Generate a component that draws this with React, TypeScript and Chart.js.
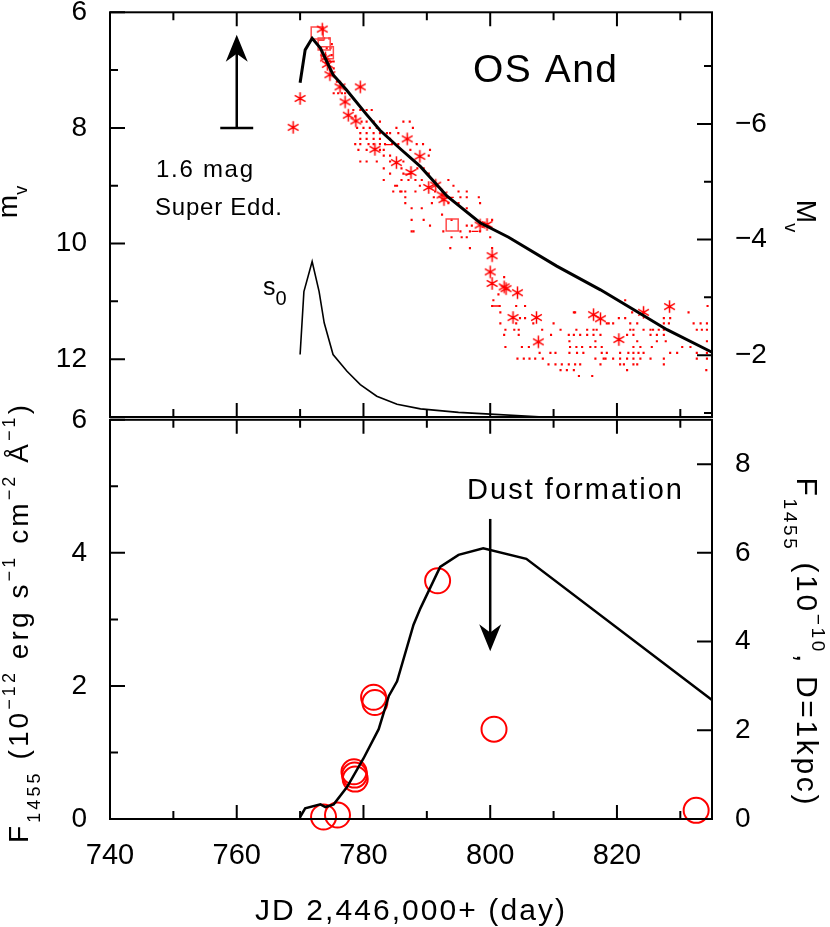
import React, { useEffect, useRef } from 'react';
import { Chart, registerables } from 'chart.js';

Chart.register(...registerables);

const FONT = "'Liberation Sans', Arial, Helvetica, sans-serif";
const RED = '#ff0000';

// ---------------- axes ----------------
const X_MIN = 740;
const X_MAX = 835;
const xMajorTicks = [740, 760, 780, 800, 820];
const xMinorTicks = [750, 770, 790, 810, 830];

const MAG_MIN = 6;
const MAG_MAX = 13;
const magTicks = [6, 7, 8, 9, 10, 11, 12, 13];
const magLabels = [6, 8, 10, 12];
const DIST_MODULUS = 13.93;
const absMagTicks = [-7, -6, -5, -4, -3, -2, -1];
const absMagLabels = [-6, -4, -2];

const FLUX_MIN = 0;
const FLUX_MAX = 6;
const fluxTicks = [0, 1, 2, 3, 4, 5, 6];
const fluxLabels = [0, 2, 4, 6];
const FLUX_RIGHT_FACTOR = 1.5;
const fluxRightTicks = [0, 2, 4, 6, 8];

// ---------------- top panel data ----------------
const modelVDays = [770.0, 770.8, 771.9, 773.2, 775.2, 777.3, 780.5, 782.6, 785.8, 789.0, 793.2, 798.4, 802.9, 810.5, 817.4, 822.6, 827.9, 835.0];
const modelVMags = [7.22, 6.65, 6.45, 6.62, 7.08, 7.34, 7.77, 8.04, 8.36, 8.67, 9.18, 9.64, 9.89, 10.39, 10.80, 11.14, 11.49, 11.88];

const s0Days = [770.0, 770.6, 771.9, 773.0, 773.8, 775.2, 777.4, 779.5, 782.1, 785.3, 789.0, 795.0, 800.0, 808.4];
const s0Mags = [11.92, 10.83, 10.31, 10.83, 11.37, 11.92, 12.21, 12.44, 12.64, 12.78, 12.86, 12.92, 12.95, 13.0];

const starDays = [768.9, 770.0, 773.5, 774.0, 774.3, 774.7, 776.3, 777.1, 777.6, 778.8, 779.5, 781.8, 785.2, 786.9, 787.5, 788.9, 790.3, 791.4, 792.4, 792.7, 798.4, 799.5, 800.3, 800.0, 800.3, 802.2, 802.5, 804.3, 803.6, 807.3, 807.6, 816.3, 817.4, 820.3, 824.2, 828.3];
const starMags = [7.99, 7.49, 6.29, 6.79, 6.90, 7.08, 7.29, 7.55, 7.78, 7.88, 7.29, 8.37, 8.60, 8.19, 8.77, 8.49, 9.03, 8.99, 9.16, 9.24, 9.68, 9.67, 10.21, 10.49, 10.69, 10.75, 10.78, 10.85, 11.28, 11.28, 11.70, 11.23, 11.30, 11.66, 11.19, 11.09];

const squareDays = [772.7, 773.8, 774.3, 794.0];
const squareMags = [6.36, 6.55, 6.70, 9.68];

const dashDays = [773.3, 774.6, 783.9, 787.0, 793.7, 797.6, 800.9];
const dashMags = [6.48, 6.85, 8.29, 8.80, 9.20, 9.79, 11.08];

const dotRowMags = [6.45, 6.55, 6.62, 6.74, 6.85, 6.97, 7.08, 7.2, 7.4, 7.69, 7.8, 7.89, 8.0, 8.09, 8.19, 8.28, 8.38, 8.48, 8.58, 8.70, 8.79, 8.90, 9.0, 9.10, 9.20, 9.30, 9.39, 9.50, 9.59, 9.69, 9.79, 9.89, 10.08, 10.58, 10.88, 10.98, 11.08, 11.19, 11.29, 11.38, 11.49, 11.58, 11.69, 11.79, 11.89, 11.99, 12.09, 12.19, 12.29];
const dotRowDays = [
  [773.8, 774.6],
  [775.0],
  [773.2, 774.2, 774.8],
  [774.0, 775.0],
  [775.3],
  [774.7, 775.3],
  [775.3],
  [775.8],
  [775.3, 776.0, 776.6, 777.1],
  [778.4, 779.5, 780.5, 781.3],
  [778.7],
  [779.7, 780.5, 781.6, 782.6, 786.3, 787.3],
  [779.0, 780.0, 781.0, 782.1, 785.2, 787.8],
  [779.5, 780.5, 781.6, 782.6, 783.7, 784.2, 785.5],
  [779.5, 780.5, 781.6, 782.6, 784.2],
  [778.7, 779.5, 780.8, 781.6, 782.6, 783.4, 784.5, 785.5, 788.4, 789.4],
  [779.2, 780.5, 782.6, 783.2, 787.4, 790.5],
  [783.2, 784.2, 790.3],
  [779.5, 780.5, 782.1, 784.2, 786.3],
  [783.2, 786.0, 788.5, 789.5],
  [784.2, 786.3, 790.3],
  [783.2, 786.0, 787.1, 788.2, 789.2, 793.4],
  [785.0, 785.3, 788.9, 794.2],
  [784.7, 785.8, 786.0, 786.6, 788.2, 791.3, 795.0, 796.3],
  [786.6, 791.1, 795.3, 796.3, 798.2],
  [786.6, 790.8, 793.4, 795.0, 798.4],
  [787.6, 789.2, 796.3],
  [792.4],
  [787.6, 789.5, 793.9, 800.3],
  [790.5, 796.3, 797.1],
  [787.6, 787.9, 792.6, 795.3, 796.8, 798.4],
  [793.9, 795.5, 796.3, 800.0],
  [793.7, 796.8, 800.3],
  [802.2],
  [801.3],
  [800.5, 821.3],
  [800.3, 801.5, 804.1, 805.5, 834.3],
  [801.6, 813.2, 813.4, 822.4, 831.3],
  [804.7, 805.5, 820.3, 821.3, 827.4, 828.4],
  [801.6, 804.1, 806.8, 810.0, 818.4, 818.7, 819.4, 822.1, 823.2, 827.4, 828.2, 832.1, 833.2, 834.2],
  [802.4, 803.8, 804.5, 808.2, 811.1, 813.6, 815.3, 816.3, 816.8, 822.1, 822.6, 824.2, 825.3, 825.7, 826.6, 827.4, 832.6, 833.4, 834.2],
  [802.2, 804.5, 809.6, 812.4, 813.2, 814.2, 815.3, 816.3, 817.4, 821.6, 822.6, 825.3, 826.3, 827.4],
  [812.5, 816.6, 823.2, 826.3, 827.7, 834.2],
  [802.4, 805.0, 806.1, 812.6, 813.6, 814.5, 815.8, 816.6, 817.6, 822.6, 823.7, 825.5, 830.3, 831.6],
  [807.8, 809.5, 810.3, 812.5, 813.7, 814.7, 817.6, 818.4, 820.5, 821.8, 822.6, 823.4, 824.2, 828.4, 829.5, 832.6, 834.2],
  [804.3, 805.3, 806.2, 807.1, 808.3, 816.6, 817.9, 818.2, 819.4, 820.5, 821.6, 822.6, 823.7, 825.3, 827.4, 832.6, 834.2],
  [809.2, 810.3, 811.3, 812.4, 813.4, 814.2, 817.4, 820.5, 821.1, 822.6, 823.2, 827.4],
  [811.1, 812.1, 813.2, 821.6, 834.1],
  [814.0, 816.1],
];

// super-Eddington arrow (top panel)
const SE_DAY = 760;
const SE_BASE_MAG = 8.0;
const SE_TIP_MAG = 6.39;
const SE_BAR_HALF_DAYS = 2.6;

// ---------------- bottom panel data ----------------
const fluxModelDays = [770.0, 770.8, 773.2, 774.0, 775.3, 777.4, 780.0, 782.4, 784.0, 785.3, 787.9, 789.0, 792.1, 795.0, 798.9, 805.7, 835.0];
const fluxModel = [0.03, 0.16, 0.22, 0.18, 0.22, 0.48, 0.91, 1.35, 1.85, 2.07, 2.92, 3.17, 3.79, 3.97, 4.07, 3.91, 1.79];

const uvDays = [773.7, 775.9, 778.5, 778.6, 778.7, 781.6, 781.8, 791.7, 800.6, 832.5];
const uvFlux = [0.03, 0.06, 0.71, 0.66, 0.60, 1.83, 1.75, 3.58, 1.35, 0.13];

// dust formation arrow
const DUST_DAY = 800;
const DUST_BASE_FLUX = 4.51;
const DUST_TIP_FLUX = 2.52;

// ---------------- layout ----------------
const TOP_CANVAS_Y = -30;
const TOP_CANVAS_H = 500;
const BOT_CANVAS_Y = 380;
const BOT_CANVAS_H = 547;

const pts = (xs: number[], ys: number[]) => xs.map((x, i) => ({ x, y: ys[i] }));

type Seg = { t: string; size: number; dy?: number };
function drawText(ctx: CanvasRenderingContext2D, segs: Seg[], x: number, y: number, angle: number, width: number | null, align: 'left' | 'center') {
  ctx.save();
  ctx.translate(x, y);
  ctx.rotate(angle);
  ctx.textBaseline = 'alphabetic';
  ctx.textAlign = 'left';
  ctx.fillStyle = '#000';
  const chars: { c: string; size: number; dy: number; w: number }[] = [];
  for (const s of segs) {
    ctx.font = `${s.size}px ${FONT}`;
    for (const c of Array.from(s.t)) chars.push({ c, size: s.size, dy: s.dy || 0, w: ctx.measureText(c).width });
  }
  const natural = chars.reduce((a, c) => a + c.w, 0);
  const gap = width && chars.length > 1 ? (width - natural) / (chars.length - 1) : 0;
  const total = width ?? natural;
  let cx = align === 'center' ? -total / 2 : 0;
  for (const ch of chars) {
    ctx.font = `${ch.size}px ${FONT}`;
    ctx.fillText(ch.c, cx, ch.dy);
    cx += ch.w + gap;
  }
  ctx.restore();
}

function drawArrow(ctx: CanvasRenderingContext2D, x: number, yFrom: number, yTip: number) {
  const dir = Math.sign(yTip - yFrom);
  const headLen = 27;
  const halfW = 11;
  ctx.lineWidth = 2.5;
  ctx.beginPath();
  ctx.moveTo(x, yFrom);
  ctx.lineTo(x, yTip - dir * headLen * 0.6);
  ctx.stroke();
  ctx.beginPath();
  ctx.moveTo(x, yTip);
  ctx.lineTo(x - halfW, yTip - dir * headLen);
  ctx.lineTo(x, yTip - dir * headLen * 0.7);
  ctx.lineTo(x + halfW, yTip - dir * headLen);
  ctx.closePath();
  ctx.fill();
}

function makeStar(): HTMLCanvasElement {
  const c = document.createElement('canvas');
  c.width = 15;
  c.height = 15;
  const g = c.getContext('2d')!;
  g.strokeStyle = RED;
  g.lineWidth = 1.5;
  const r = 6.2;
  g.beginPath();
  for (const a of [90, 30, -30]) {
    const dx = Math.cos((a * Math.PI) / 180) * r;
    const dy = Math.sin((a * Math.PI) / 180) * r;
    g.moveTo(7.5 - dx, 7.5 - dy);
    g.lineTo(7.5 + dx, 7.5 + dy);
  }
  g.stroke();
  return c;
}

function yScale(pos: 'left' | 'right', min: number, max: number, reverse: boolean, ticks: number[], label: (v: number) => string, width: number) {
  return {
    type: 'linear',
    position: pos,
    min,
    max,
    reverse,
    grid: { display: false, drawTicks: false },
    border: { display: false },
    ticks: {
      font: { family: FONT, size: 28 },
      color: '#000',
      padding: 23,
      autoSkip: false,
      callback: (v: number) => label(v),
    },
    afterBuildTicks: (s: any) => {
      s.ticks = ticks.map((v) => ({ value: v }));
    },
    afterFit: (s: any) => {
      s.width = width;
    },
  };
}

function xScale(display: boolean) {
  return {
    type: 'linear',
    position: 'bottom',
    display,
    min: X_MIN,
    max: X_MAX,
    grid: { display: false, drawTicks: false },
    border: { display: false },
    ticks: {
      font: { family: FONT, size: 29 },
      color: '#000',
      padding: 20,
      autoSkip: false,
      maxRotation: 0,
      callback: (v: number) => (xMajorTicks.includes(v) ? String(v) : ''),
    },
    afterBuildTicks: (s: any) => {
      s.ticks = [...xMajorTicks, ...xMinorTicks].sort((a, b) => a - b).map((v) => ({ value: v }));
    },
    afterFit: (s: any) => {
      s.height = display ? 108 : 0;
    },
  };
}

function framePlugin(leftTicks: number[], leftMajor: number[], rightTicks: number[], rightMajor: number[]) {
  return {
    id: 'frameTicks',
    afterDraw(chart: any) {
      const { ctx, chartArea: a } = chart;
      const xs = chart.scales.x;
      const ys = chart.scales.y;
      const ys2 = chart.scales.y2;
      ctx.save();
      ctx.strokeStyle = '#000';
      ctx.lineWidth = 2;
      ctx.strokeRect(a.left, a.top, a.right - a.left, a.bottom - a.top);
      ctx.beginPath();
      for (const v of [...xMajorTicks, ...xMinorTicks]) {
        const len = xMajorTicks.includes(v) ? 14 : 8;
        const px = xs.getPixelForValue(v);
        ctx.moveTo(px, a.bottom);
        ctx.lineTo(px, a.bottom - len);
        ctx.moveTo(px, a.top);
        ctx.lineTo(px, a.top + len);
      }
      for (const v of leftTicks) {
        const len = leftMajor.includes(v) ? 15 : 8;
        const py = ys.getPixelForValue(v);
        ctx.moveTo(a.left, py);
        ctx.lineTo(a.left + len, py);
      }
      for (const v of rightTicks) {
        const len = rightMajor.includes(v) ? 15 : 8;
        const py = ys2.getPixelForValue(v);
        ctx.moveTo(a.right, py);
        ctx.lineTo(a.right - len, py);
      }
      ctx.stroke();
      ctx.restore();
    },
  };
}

const topAnnotations = {
  id: 'topAnnotations',
  afterDraw(chart: any) {
    const { ctx } = chart;
    const xs = chart.scales.x;
    const ys = chart.scales.y;
    const oy = -TOP_CANVAS_Y;
    ctx.save();
    ctx.fillStyle = '#000';
    ctx.strokeStyle = '#000';
    const ax = xs.getPixelForValue(SE_DAY);
    const yb = ys.getPixelForValue(SE_BASE_MAG);
    ctx.lineWidth = 2.5;
    ctx.beginPath();
    ctx.moveTo(xs.getPixelForValue(SE_DAY - SE_BAR_HALF_DAYS), yb);
    ctx.lineTo(xs.getPixelForValue(SE_DAY + SE_BAR_HALF_DAYS), yb);
    ctx.stroke();
    drawArrow(ctx, ax, yb, ys.getPixelForValue(SE_TIP_MAG));

    drawText(ctx, [{ t: 'OS And', size: 39 }], 473, 82 + oy, 0, 144, 'left');
    drawText(ctx, [{ t: '1.6 mag', size: 24 }], 156, 177 + oy, 0, 97, 'left');
    drawText(ctx, [{ t: 'Super Edd.', size: 24 }], 155, 215 + oy, 0, 127, 'left');
    drawText(ctx, [{ t: 's', size: 25 }, { t: '0', size: 20, dy: 10 }], 263, 295 + oy, 0, null, 'left');
    drawText(ctx, [{ t: 'm', size: 28 }, { t: 'v', size: 18, dy: 10 }], 17, 202 + oy, -Math.PI / 2, null, 'center');
    drawText(ctx, [{ t: 'M', size: 28 }, { t: 'v', size: 18, dy: 12 }], 797, 216 + oy, Math.PI / 2, null, 'center');
    ctx.restore();
  },
};

const bottomAnnotations = {
  id: 'bottomAnnotations',
  afterDraw(chart: any) {
    const { ctx } = chart;
    const xs = chart.scales.x;
    const ys = chart.scales.y;
    const oy = -BOT_CANVAS_Y;
    ctx.save();
    ctx.fillStyle = '#000';
    ctx.strokeStyle = '#000';
    drawArrow(ctx, xs.getPixelForValue(DUST_DAY), ys.getPixelForValue(DUST_BASE_FLUX), ys.getPixelForValue(DUST_TIP_FLUX));
    drawText(ctx, [{ t: 'Dust formation', size: 29 }], 467, 499 + oy, 0, 215, 'left');
    drawText(ctx, [{ t: 'JD 2,446,000+ (day)', size: 30 }], 255, 920 + oy, 0, 310, 'left');
    drawText(
      ctx,
      [
        { t: 'F', size: 28 },
        { t: '1455', size: 18, dy: 12 },
        { t: ' (10', size: 28 },
        { t: '\u221212', size: 18, dy: -13 },
        { t: ' erg s', size: 28 },
        { t: '\u22121', size: 18, dy: -13 },
        { t: ' cm', size: 28 },
        { t: '\u22122', size: 18, dy: -13 },
        { t: ' \u00c5', size: 28 },
        { t: '\u22121', size: 18, dy: -13 },
        { t: ')', size: 28 },
      ],
      28,
      624 + oy,
      -Math.PI / 2,
      438,
      'center'
    );
    drawText(
      ctx,
      [
        { t: 'F', size: 30 },
        { t: '1455', size: 19, dy: 13 },
        { t: ' (10', size: 30 },
        { t: '\u221210', size: 19, dy: -15 },
        { t: ', D=1kpc)', size: 30 },
      ],
      797,
      641 + oy,
      Math.PI / 2,
      327,
      'center'
    );
    ctx.restore();
  },
};

export default function App() {
  const topRef = useRef<HTMLCanvasElement>(null);
  const botRef = useRef<HTMLCanvasElement>(null);

  useEffect(() => {
    Chart.defaults.font.family = FONT;
    const star = makeStar();
    const dots: { x: number; y: number }[] = [];
    dotRowMags.forEach((m, i) => dotRowDays[i].forEach((d) => dots.push({ x: d, y: m })));

    const top = new Chart(topRef.current as HTMLCanvasElement, {
      type: 'scatter',
      data: {
        datasets: [
          { data: pts(modelVDays, modelVMags), showLine: true, borderColor: '#000', borderWidth: 3, pointRadius: 0, tension: 0, clip: false },
          { data: pts(s0Days, s0Mags), showLine: true, borderColor: '#000', borderWidth: 1.6, pointRadius: 0, tension: 0, clip: false },
          { data: pts(starDays, starMags), pointStyle: star, pointRadius: 7, borderWidth: 0 },
          { data: pts(squareDays, squareMags), pointStyle: 'rect', pointRadius: 8.5, borderColor: '#ff4a4a', borderWidth: 1.5, backgroundColor: 'rgba(0,0,0,0)' },
          { data: pts(dashDays, dashMags), pointStyle: 'line', pointRadius: 3.5, borderColor: RED, borderWidth: 1.3 },
          { data: dots, pointStyle: 'rect', pointRadius: 1.5, borderWidth: 0, backgroundColor: RED },
        ],
      } as any,
      options: {
        responsive: false,
        animation: false,
        events: [],
        layout: { padding: { top: 12.3 - TOP_CANVAS_Y, bottom: TOP_CANVAS_H - (417 - TOP_CANVAS_Y), left: 0, right: 0 } },
        plugins: { legend: { display: false }, tooltip: { enabled: false } },
        scales: {
          x: xScale(false),
          y: yScale('left', MAG_MIN, MAG_MAX, true, magTicks, (v) => (magLabels.includes(v) ? String(v) : ''), 110),
          y2: yScale('right', MAG_MIN - DIST_MODULUS, MAG_MAX - DIST_MODULUS, true, absMagTicks, (v) => (absMagLabels.includes(v) ? '\u2212' + Math.abs(v) : ''), 118),
        },
      } as any,
      plugins: [framePlugin(magTicks, magLabels, absMagTicks, absMagLabels), topAnnotations],
    });

    const bot = new Chart(botRef.current as HTMLCanvasElement, {
      type: 'scatter',
      data: {
        datasets: [
          { data: pts(fluxModelDays, fluxModel), showLine: true, borderColor: '#000', borderWidth: 2.5, pointRadius: 0, tension: 0, clip: false },
          { data: pts(uvDays, uvFlux), pointStyle: 'circle', pointRadius: 12.5, borderColor: RED, borderWidth: 2, backgroundColor: 'rgba(0,0,0,0)', clip: false },
        ],
      } as any,
      options: {
        responsive: false,
        animation: false,
        events: [],
        layout: { padding: { top: 417 - BOT_CANVAS_Y, bottom: 0, left: 0, right: 0 } },
        plugins: { legend: { display: false }, tooltip: { enabled: false } },
        scales: {
          x: xScale(true),
          y: yScale('left', FLUX_MIN, FLUX_MAX, false, fluxTicks, (v) => (fluxLabels.includes(v) ? String(v) : ''), 110),
          y2: yScale('right', FLUX_MIN * FLUX_RIGHT_FACTOR, FLUX_MAX * FLUX_RIGHT_FACTOR, false, fluxRightTicks, (v) => String(v), 118),
        },
      } as any,
      plugins: [framePlugin(fluxTicks, fluxLabels, fluxRightTicks, fluxRightTicks), bottomAnnotations],
    });

    return () => {
      top.destroy();
      bot.destroy();
    };
  }, []);

  return (
    <div style={{ position: 'absolute', left: 0, top: 0, width: 830, height: 927, overflow: 'hidden', background: '#fff' }}>
      <canvas ref={topRef} width={830} height={TOP_CANVAS_H} style={{ position: 'absolute', left: 0, top: TOP_CANVAS_Y, width: 830, height: TOP_CANVAS_H }} />
      <canvas ref={botRef} width={830} height={BOT_CANVAS_H} style={{ position: 'absolute', left: 0, top: BOT_CANVAS_Y, width: 830, height: BOT_CANVAS_H }} />
    </div>
  );
}
